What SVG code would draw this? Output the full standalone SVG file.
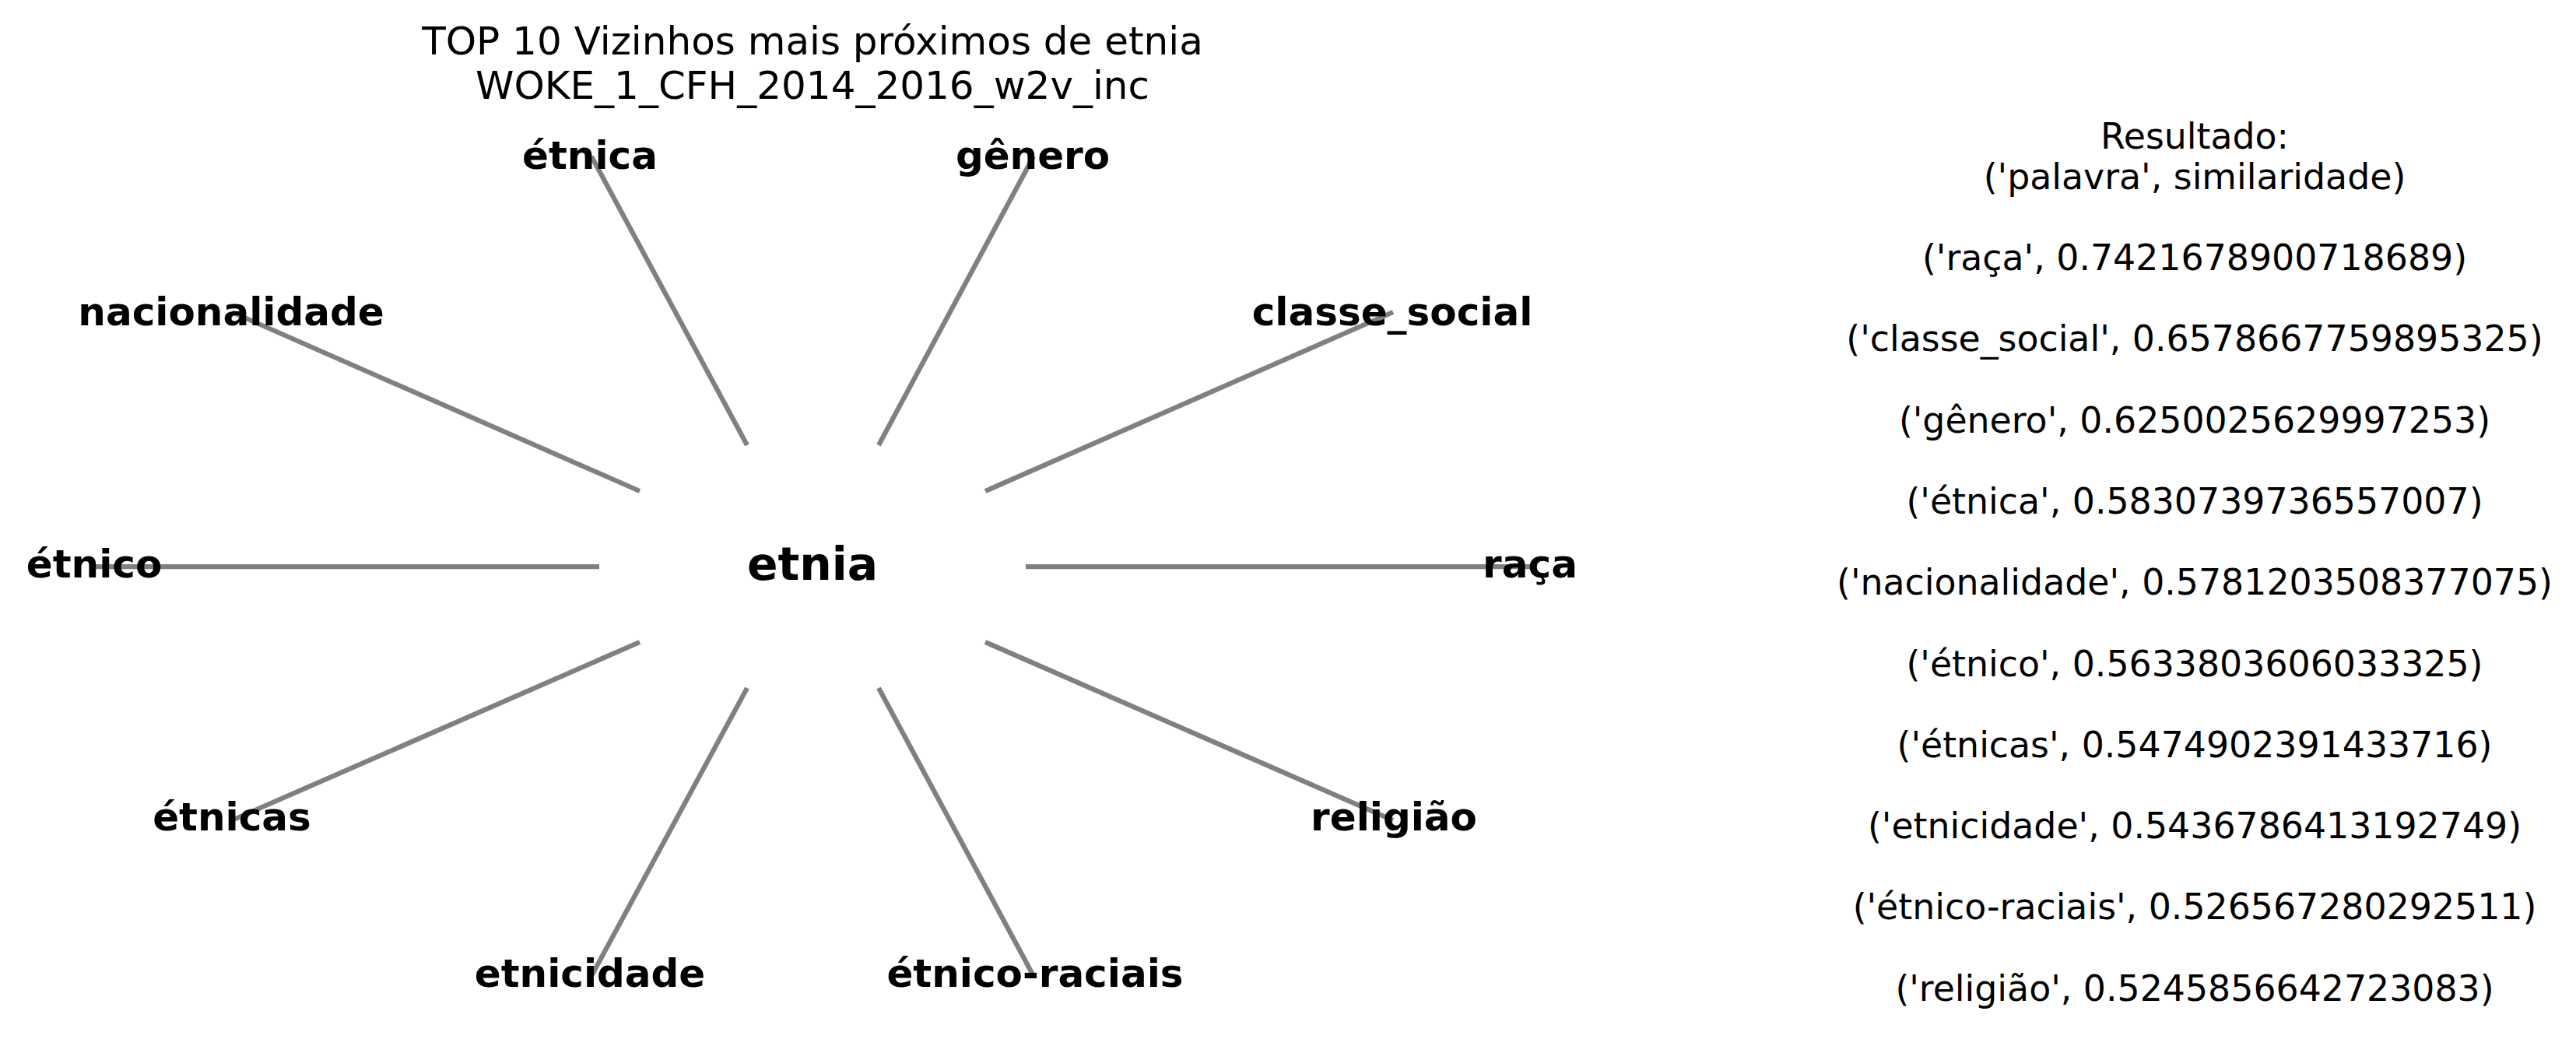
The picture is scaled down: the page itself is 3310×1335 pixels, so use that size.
<svg xmlns="http://www.w3.org/2000/svg" width="3310" height="1335" viewBox="0 0 3310 1335">
<style>
.t{font-family:"DejaVu Sans","Liberation Sans",sans-serif;fill:#000;text-anchor:middle}
.title{font-size:50px}
.lbl{font-size:50px;font-weight:bold}
.ctr{font-size:58.3px;font-weight:bold}
.res{font-size:45.8px}
.e{stroke:#808080;stroke-width:6.25;fill:none}
</style>
<rect width="3310" height="1335" fill="#fff"/>
<g id="title">
<text class="t title" x="1044" y="70">TOP 10 Vizinhos mais próximos de etnia</text>
<text class="t title" x="1044" y="127">WOKE_1_CFH_2014_2016_w2v_inc</text>
</g>
<g id="edges">
<line class="e" x1="960" y1="572" x2="760" y2="201"/>
<line class="e" x1="1129" y1="572" x2="1328" y2="201"/>
<line class="e" x1="822" y1="631" x2="298" y2="401"/>
<line class="e" x1="1266" y1="631" x2="1790" y2="401"/>
<line class="e" x1="770" y1="728" x2="121" y2="728"/>
<line class="e" x1="1318" y1="728" x2="1966" y2="728"/>
<line class="e" x1="822" y1="825" x2="298" y2="1054"/>
<line class="e" x1="1266" y1="825" x2="1790" y2="1054"/>
<line class="e" x1="960" y1="884" x2="760" y2="1254"/>
<line class="e" x1="1129" y1="884" x2="1328" y2="1254"/>
</g>
<g id="node-etnia"><text class="t ctr" x="1044" y="745">etnia</text></g>
<g id="node-etnica"><text class="t lbl" x="758" y="217">étnica</text></g>
<g id="node-genero"><text class="t lbl" x="1327" y="217">gênero</text></g>
<g id="node-nacionalidade"><text class="t lbl" x="297" y="418">nacionalidade</text></g>
<g id="node-classe_social"><text class="t lbl" x="1789" y="418">classe_social</text></g>
<g id="node-etnico"><text class="t lbl" x="121" y="742">étnico</text></g>
<g id="node-raca"><text class="t lbl" x="1966" y="742">raça</text></g>
<g id="node-etnicas"><text class="t lbl" x="298" y="1067">étnicas</text></g>
<g id="node-religiao"><text class="t lbl" x="1791" y="1067">religião</text></g>
<g id="node-etnicidade"><text class="t lbl" x="758" y="1268">etnicidade</text></g>
<g id="node-etnico-raciais"><text class="t lbl" x="1330" y="1268">étnico-raciais</text></g>
<g id="result">
<text class="t res" x="2820" y="190.5">Resultado:</text>
<text class="t res" x="2820" y="242.7">('palavra', similaridade)</text>
<text class="t res" x="2820" y="347">('raça', 0.7421678900718689)</text>
<text class="t res" x="2820" y="451.3">('classe_social', 0.6578667759895325)</text>
<text class="t res" x="2820" y="555.6">('gênero', 0.6250025629997253)</text>
<text class="t res" x="2820" y="659.9">('étnica', 0.5830739736557007)</text>
<text class="t res" x="2820" y="764.2">('nacionalidade', 0.5781203508377075)</text>
<text class="t res" x="2820" y="868.5">('étnico', 0.5633803606033325)</text>
<text class="t res" x="2820" y="972.8">('étnicas', 0.5474902391433716)</text>
<text class="t res" x="2820" y="1077.1">('etnicidade', 0.5436786413192749)</text>
<text class="t res" x="2820" y="1181.4">('étnico-raciais', 0.526567280292511)</text>
<text class="t res" x="2820" y="1285.7">('religião', 0.5245856642723083)</text>
</g>
</svg>
